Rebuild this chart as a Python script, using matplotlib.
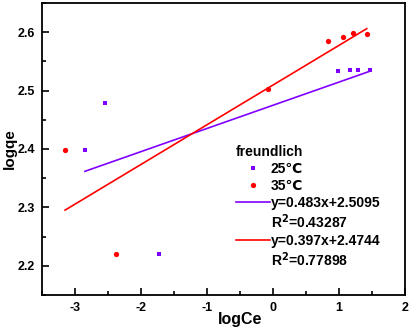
import matplotlib
matplotlib.use("Agg")
import matplotlib.pyplot as plt
from matplotlib.lines import Line2D
import numpy as np
from matplotlib.ticker import MultipleLocator

# --- datos ---
x25 = [-2.85, -2.54, -1.73, 0.98, 1.16, 1.29, 1.47]
y25 = [2.398, 2.479, 2.221, 2.533, 2.535, 2.535, 2.535]
x35 = [-3.15, -2.375, -0.07, 0.84, 1.06, 1.21, 1.42]
y35 = [2.398, 2.221, 2.503, 2.585, 2.592, 2.598, 2.597]
series = ["25℃", "35℃"]
ecuaciones = ["y=0.483x+2.5095", "y=0.397x+2.4744"]
r2 = ["R$^2$=0.43287", "R$^2$=0.77898"]

violeta = "#8000FF"
rojo = "#FF0000"

plt.rcParams["font.family"] = ["Liberation Sans", "DejaVu Sans"]
plt.rcParams["font.weight"] = "bold"
plt.rcParams["mathtext.default"] = "bf"
plt.rcParams["axes.unicode_minus"] = False

fig = plt.figure(figsize=(4.09, 3.30), dpi=100)
ax = fig.add_axes([0.1027, 0.106, 0.8875, 0.885])

h25, = ax.plot(x25, y25, "s", color=violeta, ms=3.5, mew=0)
h35, = ax.plot(x35, y35, "o", color=rojo, ms=3.8, mew=0)

# ajustes lineales
lineas = []
for xs, ys, c in [(x25, y25, violeta), (x35, y35, rojo)]:
    m, b = np.polyfit(xs, ys, 1)
    xx = np.array([min(xs), max(xs)])
    l, = ax.plot(xx, m * xx + b, "-", color=c, lw=1.2)
    lineas.append(l)

ax.set_xlim(-3.5, 2)
ax.set_ylim(2.15, 2.65)
ax.xaxis.set_major_locator(MultipleLocator(1))
ax.xaxis.set_minor_locator(MultipleLocator(0.5))
ax.yaxis.set_major_locator(MultipleLocator(0.1))
ax.yaxis.set_minor_locator(MultipleLocator(0.05))
ax.tick_params(which="both", direction="in", labelsize=9, width=1.2)
ax.tick_params(which="major", length=5, pad=5)
ax.tick_params(which="minor", length=3)
ax.tick_params(top=False, right=False)
for s in ax.spines.values():
    s.set_linewidth(1.3)

ax.set_xlabel("logCe", fontsize=11.5, fontweight="bold")
ax.set_ylabel("logqe", fontsize=11, fontweight="bold")
ax.xaxis.set_label_coords(0.545, -0.058)
ax.yaxis.set_label_coords(-0.07, 0.5)

# leyenda: la linea va en la fila de la ecuacion, R2 en fila aparte
vacio = Line2D([], [], linestyle="none", marker=None)
handles = [h25, h35, lineas[0], vacio, lineas[1], vacio]
labels = [series[0], series[1], ecuaciones[0], r2[0], ecuaciones[1], r2[1]]
leg = ax.legend(handles, labels, title="freundlich", frameon=False, fontsize=10,
                title_fontsize=10, loc="upper left", bbox_to_anchor=(0.535, 0.512),
                handlelength=2.4, handletextpad=0.1, labelspacing=0.2,
                borderaxespad=0, borderpad=0)
leg._legend_box.align = "left"
leg.get_title().set_fontweight("bold")

fig.savefig("out.png", dpi=100)
